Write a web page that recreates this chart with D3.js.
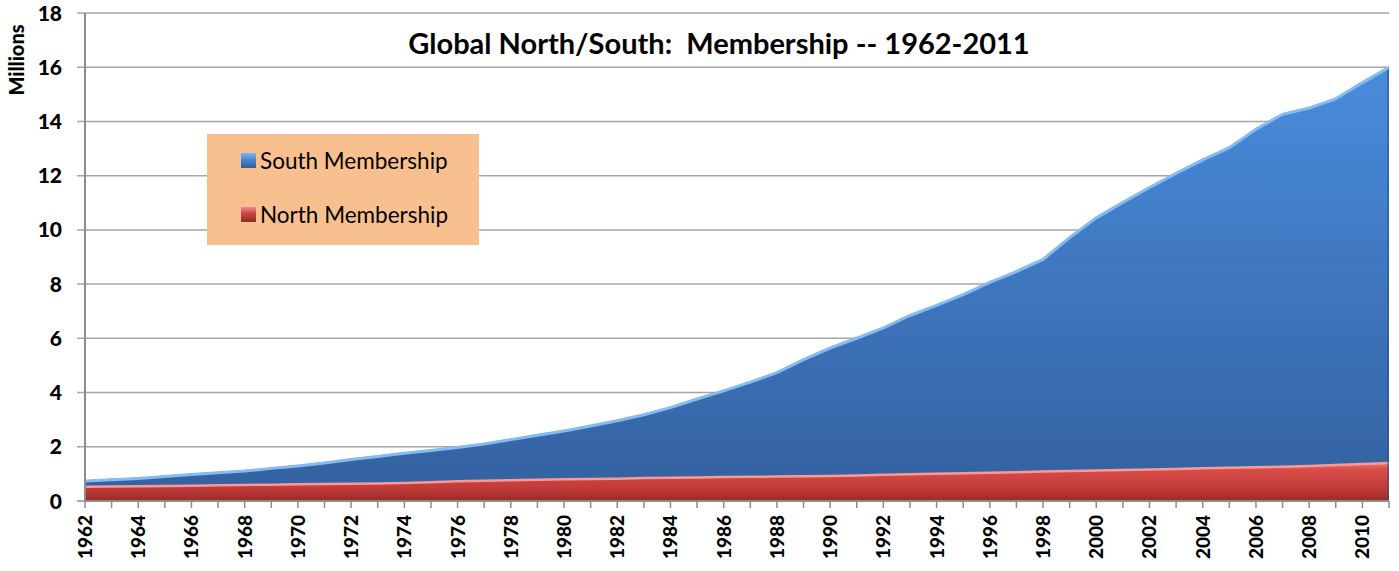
<!DOCTYPE html>
<html>
<head>
<meta charset="utf-8">
<script src="https://cdn.jsdelivr.net/npm/d3@7"></script>
<style>
  body { margin: 0; background: #fff; }
  text { font-family: Lato, "Open Sans", sans-serif; }
</style>
</head>
<body>
<div id="chart"></div>
<script>
var years = [1962, 1963, 1964, 1965, 1966, 1967, 1968, 1969, 1970, 1971,
             1972, 1973, 1974, 1975, 1976, 1977, 1978, 1979, 1980, 1981,
             1982, 1983, 1984, 1985, 1986, 1987, 1988, 1989, 1990, 1991,
             1992, 1993, 1994, 1995, 1996, 1997, 1998, 1999, 2000, 2001,
             2002, 2003, 2004, 2005, 2006, 2007, 2008, 2009, 2010, 2011];
// millions
var north = [0.57, 0.58, 0.59, 0.60, 0.61, 0.63, 0.64, 0.65, 0.66, 0.67,
             0.68, 0.69, 0.71, 0.74, 0.77, 0.79, 0.81, 0.83, 0.85, 0.86,
             0.87, 0.89, 0.90, 0.91, 0.93, 0.94, 0.95, 0.96, 0.97, 0.99,
             1.01, 1.03, 1.05, 1.07, 1.09, 1.11, 1.13, 1.15, 1.17, 1.19,
             1.21, 1.23, 1.25, 1.27, 1.29, 1.31, 1.34, 1.37, 1.41, 1.45];
var south = [0.20, 0.24, 0.28, 0.34, 0.40, 0.45, 0.50, 0.59, 0.67, 0.77,
             0.89, 0.99, 1.09, 1.16, 1.24, 1.35, 1.49, 1.63, 1.77, 1.94,
             2.13, 2.33, 2.58, 2.89, 3.17, 3.48, 3.82, 4.29, 4.71, 5.05,
             5.41, 5.85, 6.20, 6.58, 7.01, 7.39, 7.82, 8.60, 9.31, 9.86,
             10.39, 10.89, 11.37, 11.80, 12.46, 12.99, 13.19, 13.50, 14.06, 14.58];
var yTicks = [0, 2, 4, 6, 8, 10, 12, 14, 16, 18];
var xLabels = years.filter(function(d) { return d % 2 === 0; });
var legendItems = ["South Membership", "North Membership"];

var w = 1399, h = 571;
var pLeft = 85, pRight = 1389, pTop = 13, pBottom = 501;

var svg = d3.select("#chart").append("svg")
    .attr("width", w)
    .attr("height", h);

var defs = svg.append("defs");
var gBlue = defs.append("linearGradient").attr("id", "gBlue")
    .attr("x1", 0).attr("y1", 0).attr("x2", 0).attr("y2", 1);
gBlue.append("stop").attr("offset", "0%").attr("stop-color", "#4a8cdc");
gBlue.append("stop").attr("offset", "100%").attr("stop-color", "#3462a2");
var gRed = defs.append("linearGradient").attr("id", "gRed")
    .attr("x1", 0).attr("y1", 0).attr("x2", 0).attr("y2", 1);
gRed.append("stop").attr("offset", "0%").attr("stop-color", "#f47c79");
gRed.append("stop").attr("offset", "20%").attr("stop-color", "#d84c49");
gRed.append("stop").attr("offset", "70%").attr("stop-color", "#bf3a38");
gRed.append("stop").attr("offset", "100%").attr("stop-color", "#982a29");
var mBlue = defs.append("linearGradient").attr("id", "mBlue")
    .attr("x1", 0).attr("y1", 0).attr("x2", 0).attr("y2", 1);
mBlue.append("stop").attr("offset", "0%").attr("stop-color", "#7fb6f0");
mBlue.append("stop").attr("offset", "45%").attr("stop-color", "#4a86d0");
mBlue.append("stop").attr("offset", "100%").attr("stop-color", "#2f5d9a");
var mRed = defs.append("linearGradient").attr("id", "mRed")
    .attr("x1", 0).attr("y1", 0).attr("x2", 0).attr("y2", 1);
mRed.append("stop").attr("offset", "0%").attr("stop-color", "#f08a88");
mRed.append("stop").attr("offset", "45%").attr("stop-color", "#c94442");
mRed.append("stop").attr("offset", "100%").attr("stop-color", "#8f2a29");

var x = d3.scaleLinear().domain([years[0], years[years.length - 1]]).range([pLeft, pRight]);
var y = d3.scaleLinear().domain([0, 18]).range([pBottom, pTop]);

// grid
svg.append("g").selectAll("line")
    .data(yTicks.filter(function(d) { return d > 0; }))
    .enter().append("line")
    .attr("x1", pLeft - 8).attr("x2", pRight)
    .attr("y1", function(d) { return y(d); })
    .attr("y2", function(d) { return y(d); })
    .attr("stroke", "#a6a6a6")
    .attr("stroke-width", 1.5);

// stacked areas
var table = years.map(function(d, i) { return { year: d, north: north[i], south: south[i] }; });
var stack = d3.stack().keys(["north", "south"]);
var layers = stack(table);

var area = d3.area()
    .x(function(d) { return x(d.data.year); })
    .y0(function(d) { return y(d[0]); })
    .y1(function(d) { return y(d[1]); });
var topLine = d3.line()
    .x(function(d) { return x(d.data.year); })
    .y(function(d) { return y(d[1]); });

var fills = { north: "url(#gRed)", south: "url(#gBlue)" };
var edges = { north: "#f69b98", south: "#86bbf2" };

layers.forEach(function(layer) {
  svg.append("path")
      .datum(layer)
      .attr("d", area)
      .attr("fill", fills[layer.key]);
  svg.append("path")
      .datum(layer)
      .attr("d", topLine)
      .attr("fill", "none")
      .attr("stroke", edges[layer.key])
      .attr("stroke-width", 3)
      .attr("transform", "translate(0,1)");
});

// right edge shade
svg.append("line")
    .attr("x1", pRight - 1).attr("x2", pRight - 1)
    .attr("y1", y(north[north.length - 1] + south[south.length - 1]) + 3)
    .attr("y2", pBottom)
    .attr("stroke", "#2a4f85")
    .attr("stroke-opacity", 0.5)
    .attr("stroke-width", 2);

// y axis
var yAxis = svg.append("g").attr("transform", "translate(" + pLeft + ",0)");
yAxis.append("line")
    .attr("x1", 0).attr("x2", 0).attr("y1", pTop).attr("y2", pBottom)
    .attr("stroke", "#8c8c8c").attr("stroke-width", 2);
yAxis.selectAll("text")
    .data(yTicks)
    .enter().append("text")
    .attr("x", -23)
    .attr("y", function(d) { return y(d); })
    .attr("dy", "0.36em")
    .attr("text-anchor", "end")
    .attr("font-size", "21px")
    .attr("font-weight", "900")
    .attr("fill", "#000")
    .text(function(d) { return d; });
yAxis.append("line")
    .attr("x1", -8).attr("x2", 0).attr("y1", pBottom).attr("y2", pBottom)
    .attr("stroke", "#8c8c8c").attr("stroke-width", 1.5);

svg.append("text")
    .attr("transform", "translate(24,60) rotate(-90)")
    .attr("text-anchor", "middle")
    .attr("font-size", "20px")
    .attr("font-weight", "900")
    .text("Millions");

// x axis
var xAxis = svg.append("g");
xAxis.append("line")
    .attr("x1", pLeft).attr("x2", pRight).attr("y1", pBottom).attr("y2", pBottom)
    .attr("stroke", "#8c8c8c").attr("stroke-width", 2);
xAxis.selectAll("line.tick")
    .data(years)
    .enter().append("line")
    .attr("class", "tick")
    .attr("x1", function(d) { return x(d); })
    .attr("x2", function(d) { return x(d); })
    .attr("y1", pBottom).attr("y2", pBottom + 7)
    .attr("stroke", "#8c8c8c").attr("stroke-width", 1.5);
xAxis.selectAll("text")
    .data(xLabels)
    .enter().append("text")
    .attr("transform", function(d) { return "translate(" + (x(d) + 7) + ",515) rotate(-90)"; })
    .attr("text-anchor", "end")
    .attr("font-size", "19px")
    .attr("font-weight", "900")
    .text(function(d) { return d; });

// title
svg.append("text")
    .attr("x", 719)
    .attr("y", 54)
    .attr("text-anchor", "middle")
    .attr("font-size", "29px")
    .attr("font-weight", "bold")
    .attr("xml:space", "preserve")
    .text("Global North/South:  Membership -- 1962-2011");

// legend
var legend = svg.append("g");
legend.append("rect")
    .attr("x", 207).attr("y", 134)
    .attr("width", 272).attr("height", 111)
    .attr("fill", "#f9c08f");
var markers = ["url(#mBlue)", "url(#mRed)"];
legend.selectAll("rect.key")
    .data(legendItems)
    .enter().append("rect")
    .attr("class", "key")
    .attr("x", 241)
    .attr("y", function(d, i) { return 153 + i * 54; })
    .attr("width", 15).attr("height", 15)
    .attr("fill", function(d, i) { return markers[i]; });
legend.selectAll("text")
    .data(legendItems)
    .enter().append("text")
    .attr("x", 260)
    .attr("y", function(d, i) { return 169 + i * 54; })
    .attr("font-size", "22.5px")
    .attr("fill", "#000")
    .text(function(d) { return d; });
</script>
</body>
</html>
